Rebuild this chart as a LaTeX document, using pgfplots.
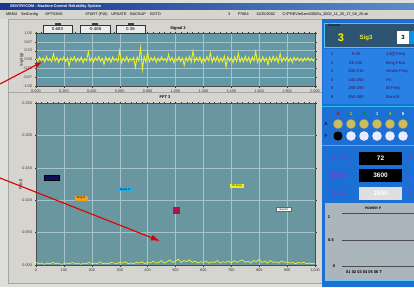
\documentclass[border=0pt]{standalone}
\usepackage{pgfplots}
\pgfplotsset{compat=1.18}
\usepackage{fontspec}
\setmainfont{Liberation Sans}
\usetikzlibrary{arrows.meta}
\definecolor{bgc}{RGB}{222,222,218}
\definecolor{framec}{RGB}{214,212,206}
\definecolor{plotbg}{RGB}{106,150,160}
\definecolor{plotbgtop}{RGB}{100,152,166}
\definecolor{gridc}{RGB}{165,195,200}
\definecolor{sigy}{RGB}{242,242,40}
\definecolor{titleb}{RGB}{25,55,140}
\definecolor{titleb2}{RGB}{90,140,200}
\definecolor{panelb}{RGB}{28,112,212}
\definecolor{tableb}{RGB}{40,130,230}
\definecolor{chanbg}{RGB}{45,85,115}
\definecolor{purp}{RGB}{115,65,215}
\definecolor{navyc}{RGB}{15,15,90}
\definecolor{orangec}{RGB}{235,160,40}
\definecolor{bluec}{RGB}{40,170,230}
\definecolor{yellowc}{RGB}{240,235,40}
\definecolor{crimc}{RGB}{175,20,70}
\definecolor{powbg}{RGB}{170,182,188}
\definecolor{olivec}{RGB}{205,190,90}
\newcommand\tf{\fontsize{3.8}{4}\selectfont}
\begin{document}
\begin{tikzpicture}[x=1pt,y=-1pt]
\useasboundingbox (0,0) rectangle (414,287);
\fill[bgc] (0,0) rectangle (414,287);
% title bar and menu
\shade[left color=titleb, right color=titleb2] (0,3) rectangle (414,10);
\node[anchor=west,text=white,font=\fontsize{3.8}{4}\selectfont\bfseries,inner sep=0] at (10,6.5) {SENTRYCOM - Machine Control Reliability System};
\fill[framec] (0,10) rectangle (414,19);
\node[anchor=west,font=\tf,inner sep=0] at (6,14.5) {MENU\quad SetConfig\qquad OPTIONS\qquad\qquad\qquad START (F10)\quad UPDATE\quad BACKUP\quad GOTO};
\node[anchor=west,font=\tf,inner sep=0] at (228,14.5) {3\qquad F7664\qquad 11/25/2002\qquad C:\textbackslash PREV\textbackslash eSam\textbackslash 2002\textbackslash s\_2002\_11\_25\_17\_56\_25.sk};
% frames
\fill[framec] (8,19) rectangle (322,92);
\draw[gray!70,line width=0.4pt] (8,19) rectangle (322,92);
\fill[framec] (8,92) rectangle (322,283);
\draw[gray!70,line width=0.4pt] (8,92) rectangle (322,283);
% top plot
\begin{axis}[at={(36pt,-86pt)},anchor=south west,width=279pt,height=53pt,scale only axis,
  xmin=0,xmax=2,ymin=-1,ymax=1,
  axis background/.style={fill=plotbgtop},
  grid=major,grid style={gridc,line width=0.4pt},
  axis line style={gray!60!black,line width=0.4pt},
  tick align=outside,tick style={gray!40!black,line width=0.3pt},
  major tick length=1.5pt,minor tick length=1pt,
  xtick={0,0.2,...,2.0},minor x tick num=4,
  ytick={-1,-0.667,-0.333,0,0.333,0.667,1},
  yticklabels={-1.00,-0.67,-0.33,0.00,0.33,0.67,1.00},
  xticklabel={\pgfmathprintnumber[fixed,fixed zerofill,precision=3]{\tick}},
  ticklabel style={font=\tf,text=black!80},
  /pgf/number format/assume math mode=true,
  xticklabel style={yshift=1pt},yticklabel style={xshift=1pt},
  ylabel={Sig3 (g)},ylabel style={font=\tf,yshift=-7pt},
  clip=true]
\addplot[sigy,line width=0.85pt] table[x=x,y=y] {
x y
0.0000 0.03
0.0125 -0.07
0.0250 0.09
0.0375 -0.04
0.0500 0.06
0.0625 -0.10
0.0750 0.12
0.0875 -0.05
0.1000 0.04
0.1125 -0.09
0.1250 0.22
0.1375 -0.06
0.1500 0.08
0.1625 -0.11
0.1750 0.05
0.1875 -0.03
0.2000 0.10
0.2125 -0.08
0.2250 0.06
0.2375 -0.25
0.2500 0.07
0.2625 -0.04
0.2750 0.11
0.2875 -0.09
0.3000 0.05
0.3125 -0.06
0.3250 0.09
0.3375 -0.12
0.3500 0.04
0.3625 -0.05
0.3750 0.30
0.3875 -0.08
0.4000 0.06
0.4125 -0.10
0.4250 0.08
0.4375 -0.04
0.4500 0.12
0.4625 -0.07
0.4750 0.05
0.4875 -0.18
0.5000 0.09
0.5125 -0.06
0.5250 0.07
0.5375 -0.11
0.5500 0.10
0.5625 -0.05
0.5750 0.04
0.5875 -0.08
0.6000 0.35
0.6125 -0.12
0.6250 0.06
0.6375 -0.07
0.6500 0.11
0.6625 -0.09
0.6750 0.05
0.6875 -0.04
0.7000 0.08
0.7125 -0.30
0.7250 0.10
0.7375 -0.06
0.7500 0.45
0.7625 -0.38
0.7750 0.12
0.7875 -0.10
0.8000 0.28
0.8125 -0.08
0.8250 0.07
0.8375 -0.05
0.8500 0.09
0.8625 -0.11
0.8750 0.06
0.8875 -0.07
0.9000 0.10
0.9125 -0.04
0.9250 0.05
0.9375 -0.09
0.9500 0.20
0.9625 -0.06
0.9750 0.08
0.9875 -0.12
1.0000 0.07
1.0125 -0.05
1.0250 0.11
1.0375 -0.08
1.0500 0.06
1.0625 -0.22
1.0750 0.09
1.0875 -0.07
1.1000 0.12
1.1125 -0.10
1.1250 0.32
1.1375 -0.09
1.1500 0.08
1.1625 -0.06
1.1750 0.10
1.1875 -0.13
1.2000 0.07
1.2125 -0.08
1.2250 0.11
1.2375 -0.05
1.2500 0.26
1.2625 -0.11
1.2750 0.09
1.2875 -0.07
1.3000 0.12
1.3125 -0.10
1.3250 0.06
1.3375 -0.09
1.3500 0.13
1.3625 -0.28
1.3750 0.10
1.3875 -0.06
1.4000 0.08
1.4125 -0.12
1.4250 0.11
1.4375 -0.08
1.4500 0.24
1.4625 -0.10
1.4750 0.07
1.4875 -0.09
1.5000 0.12
1.5125 -0.07
1.5250 0.09
1.5375 -0.13
1.5500 0.10
1.5625 -0.06
1.5750 0.30
1.5875 -0.11
1.6000 0.08
1.6125 -0.09
1.6250 0.11
1.6375 -0.07
1.6500 0.06
1.6625 -0.20
1.6750 0.10
1.6875 -0.08
1.7000 0.12
1.7125 -0.06
1.7250 0.09
1.7375 -0.11
1.7500 0.22
1.7625 -0.09
1.7750 0.07
1.7875 -0.05
1.8000 0.10
1.8125 -0.08
1.8250 0.06
1.8375 -0.12
1.8500 0.09
1.8625 -0.04
1.8750 0.07
1.8875 -0.06
1.9000 0.05
1.9125 -0.08
1.9250 0.06
1.9375 -0.04
1.9500 0.07
1.9625 -0.05
1.9750 0.04
1.9875 -0.06
2.0000 0.03
};
\end{axis}
% readout boxes
\foreach \xa/\xb/\t in {43/72/0.683,80/110/-0.465,116/145/0.36}{
  \fill[black!75] ({(\xa+\xb)/2-3},22.5) rectangle ({(\xa+\xb)/2+3},25);
  \draw[black!80,fill=gray!15,line width=0.4pt] (\xa,25) rectangle (\xb,33);
  \node[font=\fontsize{4.4}{5}\selectfont,inner sep=0] at ({(\xa+\xb)/2},29) {\t};
}
\node[font=\fontsize{4}{5}\selectfont\bfseries,inner sep=0] at (178,28.5) {Signal 3};
% FFT title
\node[font=\fontsize{4}{5}\selectfont\bfseries,inner sep=0] at (165,97) {FFT 3};
% FFT plot
\begin{axis}[at={(36pt,-265pt)},anchor=south west,width=279pt,height=162pt,scale only axis,
  xmin=0,xmax=1000,ymin=0,ymax=0.25,
  axis background/.style={fill=plotbg},
  grid=major,grid style={gridc,line width=0.4pt},
  axis line style={gray!60!black,line width=0.4pt},
  tick align=outside,tick style={gray!40!black,line width=0.3pt},
  major tick length=1.5pt,minor tick length=1pt,
  xtick={0,100,...,1000},minor x tick num=4,
  ytick={0,0.05,...,0.25},
  scaled y ticks=false,
  yticklabel={\pgfmathprintnumber[fixed,fixed zerofill,precision=3]{\tick}},
  ticklabel style={font=\tf,text=black!80},
  /pgf/number format/assume math mode=true,
  xticklabel style={yshift=1pt},yticklabel style={xshift=1pt},
  ylabel={Pr(x,t)},ylabel style={font=\tf,yshift=-7pt},
  clip=false]
\addplot[sigy,line width=0.7pt] table[x=x,y=y] {
x y
0 0.004
10 0.002
20 0.003
30 0.001
40 0.003
50 0.002
60 0.004
70 0.002
80 0.003
90 0.001
100 0.002
110 0.003
120 0.002
130 0.004
140 0.002
150 0.003
160 0.001
170 0.003
180 0.002
190 0.004
200 0.002
210 0.003
220 0.002
230 0.005
240 0.002
250 0.003
260 0.002
270 0.004
280 0.003
290 0.002
300 0.004
310 0.003
320 0.005
330 0.002
340 0.003
350 0.002
360 0.004
370 0.003
380 0.005
390 0.002
400 0.004
410 0.003
420 0.006
430 0.003
440 0.004
450 0.007
460 0.003
470 0.005
480 0.008
490 0.004
500 0.006
510 0.009
520 0.004
530 0.007
540 0.005
550 0.008
560 0.004
570 0.006
580 0.003
590 0.005
600 0.004
610 0.006
620 0.003
630 0.005
640 0.004
650 0.007
660 0.003
670 0.005
680 0.004
690 0.006
700 0.003
710 0.007
720 0.004
730 0.006
740 0.008
750 0.004
760 0.006
770 0.003
780 0.007
790 0.005
800 0.009
810 0.004
820 0.006
830 0.003
840 0.007
850 0.004
860 0.005
870 0.003
880 0.006
890 0.004
900 0.005
910 0.003
920 0.004
930 0.002
940 0.004
950 0.003
960 0.004
970 0.002
980 0.003
990 0.002
1000 0.003
};
\addplot[only marks,mark=none,nodes near coords={},nodes near coords style={anchor=center,fill=navyc,draw=black,minimum width=15pt,minimum height=5pt,inner sep=0}] coordinates {(57,0.134)};
\addplot[only marks,mark=none,nodes near coords={Brng Fr},nodes near coords style={anchor=center,fill=orangec,font=\fontsize{2.6}{3}\selectfont,minimum width=13pt,minimum height=4.5pt,inner sep=0.3pt}] coordinates {(162,0.103)};
\addplot[only marks,mark=none,nodes near coords={Gearb Fr},nodes near coords style={anchor=center,fill=bluec,font=\fontsize{2.6}{3}\selectfont,minimum width=17pt,minimum height=4.5pt,inner sep=0.3pt}] coordinates {(320,0.117)};
\addplot[only marks,mark=none,nodes near coords={Pn Freq},nodes near coords style={anchor=center,fill=yellowc,font=\fontsize{2.6}{3}\selectfont,minimum width=14pt,minimum height=4.5pt,inner sep=0.3pt}] coordinates {(720,0.122)};
\addplot[only marks,mark=square*,mark size=3pt,color=crimc] coordinates {(503,0.085)};
\addplot[only marks,mark=none,nodes near coords={Band 8},nodes near coords style={anchor=center,fill=white,draw=black!60,font=\fontsize{2.6}{3}\selectfont,minimum width=15pt,minimum height=4.5pt,inner sep=0.3pt}] coordinates {(888,0.086)};
\end{axis}
% right panel
\fill[panelb] (322,19) rectangle (414,287);
\fill[chanbg] (324,23) rectangle (414,47);
\draw[cyan!70,line width=0.4pt] (324,23) rectangle (414,47);
\node[anchor=west,font=\fontsize{3.2}{4}\selectfont,text=black,inner sep=0] at (328,25.5) {Channel};
\node[font=\fontsize{11}{12}\selectfont\bfseries,text=yellow,inner sep=0] at (341,38) {3};
\node[font=\fontsize{6}{7}\selectfont\bfseries,text=yellowc,inner sep=0] at (366,38) {Sig3};
\fill[white] (397,31) rectangle (409,44);
\fill[cyan!80!blue] (409,31) rectangle (414,44);
\node[font=\fontsize{6}{7}\selectfont\bfseries,text=black,inner sep=0] at (403,37.5) {3};
\fill[tableb] (323,49) rectangle (414,104);
\foreach \r/\n/\rg/\nm in {54/1/5-25/1X(f) Freq,63/2/65-120/Brng Flow,71.5/3/200-210/Gearb Freq,80/4/240-250/Pn,88.5/5/280-290/Bl Freq,97/6/454-460/Band 8}{
  \node[font=\fontsize{4.2}{5}\selectfont,text=navyc!70!purple,inner sep=0] at (332,\r) {\n};
  \node[font=\fontsize{4.2}{5}\selectfont,text=navyc!70!purple,inner sep=0] at (356,\r) {\rg};
  \node[anchor=west,font=\fontsize{4.2}{5}\selectfont,text=navyc!70!purple,inner sep=0] at (386,\r) {\nm};
}
\draw[cyan!80,line width=0.6pt] (322,106) -- (414,106);
\foreach \xx/\lab/\c in {338/S/red!80!black,351/1/yellow!80!black,364/2/green!60!black,377/3/cyan!40!white,390/4/yellow!60!green,403/5/white}{
  \node[font=\fontsize{4.5}{5}\selectfont\bfseries,text=\c,inner sep=0] at (\xx,114) {\lab};
  \fill[olivec] (\xx,124) circle (4.8);
  \draw[black!50,line width=0.3pt] (\xx,124) circle (4.8);
  \fill[white!92!blue] (\xx,136) circle (4.8);
}
\fill[black] (338,136) circle (4.8);
\node[font=\fontsize{4.5}{5}\selectfont\bfseries,text=navyc,inner sep=0] at (326,124) {A};
\node[font=\fontsize{4.5}{5}\selectfont\bfseries,text=navyc,inner sep=0] at (326,136) {F};
\draw[cyan!80,line width=0.6pt] (322,145) -- (414,145);
\foreach \yy/\lab/\val/\u/\bx/\tc in {158.5/Tem4/72/F/black/white,175.5/RPM4/3600/s/black/white,193.5/Tem2/1500/F/gray!25/white}{
  \node[font=\fontsize{6.5}{7}\selectfont\bfseries,text=purp,inner sep=0] at (338,\yy) {\lab};
  \fill[\bx] (359,\yy-6.5) rectangle (402,\yy+6.5);
  \node[font=\fontsize{6.5}{7}\selectfont\bfseries,text=\tc,inner sep=0] at (380.5,\yy) {\val};
  \node[font=\fontsize{6.5}{7}\selectfont\bfseries,text=purp,inner sep=0] at (409,\yy) {\u};
}
% power panel
\fill[powbg] (325,203) rectangle (414,280);
\draw[cyan!60,line width=0.4pt] (325,203) rectangle (414,280);
\node[font=\fontsize{3.4}{4}\selectfont\bfseries,inner sep=0] at (373,208.5) {POWER P};
\foreach \yy in {213,240,266}{\draw[black!70,line width=0.7pt] (342,\yy) -- (414,\yy);}
\node[font=\fontsize{4}{5}\selectfont\bfseries,inner sep=0] at (329,217) {1};
\node[font=\fontsize{4}{5}\selectfont\bfseries,inner sep=0] at (331,240) {0.5};
\node[font=\fontsize{4}{5}\selectfont\bfseries,inner sep=0] at (334,266) {0};
\node[anchor=west,font=\fontsize{4}{5}\selectfont\bfseries,inner sep=0] at (346,272.5) {01\ 02\ 03\ 04\ 05\ 06\ T};
% arrows
\draw[-{Latex[length=7pt,width=5pt]},red!85!black,line width=1.1pt] (0,84) -- (42,62);
\draw[-{Latex[length=9pt,width=6pt]},red!85!black,line width=1.1pt] (0,178) -- (160,241);
\end{tikzpicture}
\end{document}
